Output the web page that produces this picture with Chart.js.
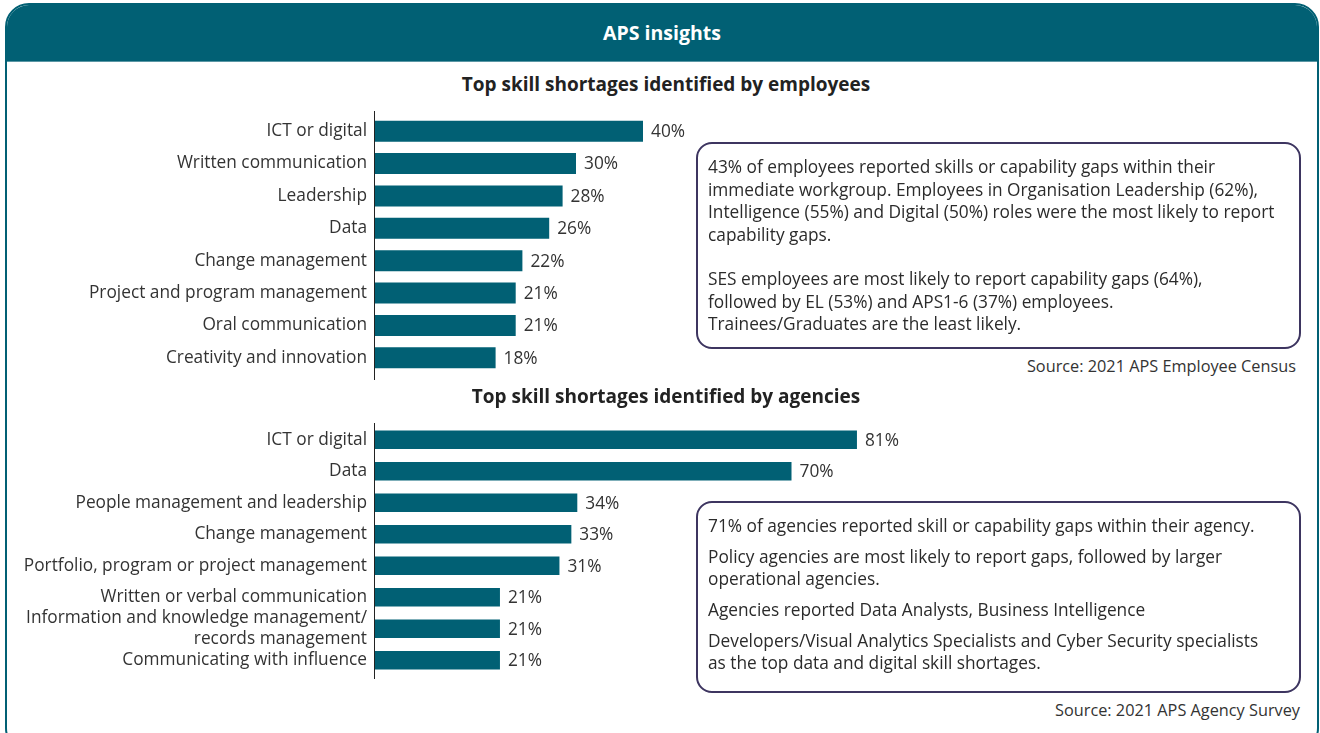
<!DOCTYPE html>
<html>
<head>
<meta charset="utf-8">
<script src="https://cdn.jsdelivr.net/npm/chart.js@4"></script>
<style>
  html, body { margin: 0; padding: 0; background: #fff; overflow: hidden; }
  body { width: 1320px; height: 733px; position: relative; font-family: "Open Sans", sans-serif; color: #333; }
  .panel { position: absolute; left: 5px; top: 3px; width: 1310px; height: 745px; border: 2px solid #016074; border-radius: 24px; overflow: hidden; box-sizing: content-box; }
  .header { height: 56px; background: #016074; color: #fff; font-weight: bold; font-size: 19.5px; text-align: center; line-height: 56px; border-bottom: 1px solid #5a96a4; }
  .title { position: absolute; left: 0; width: 1332px; text-align: center; font-weight: bold; font-size: 19px; line-height: 26px; color: #222; }
  .box { position: absolute; left: 696px; width: 605px; border: 2px solid #3d3560; border-radius: 16px; box-sizing: border-box; font-size: 17.3px; line-height: 22.5px; padding: 12px 10px; color: #2b2b2b; }
  .box p { margin: 0; white-space: nowrap; }
  .source { position: absolute; font-size: 16.3px; color: #333; text-align: right; white-space: nowrap; }
  canvas { position: absolute; left: 0; }
</style>
</head>
<body>
<div class="panel"><div class="header">APS insights</div></div>

<div class="title" style="top:71px;">Top skill shortages identified by employees</div>
<div style="position:absolute;left:0;top:105px;width:790px;height:280px;"><canvas id="empChart"></canvas></div>

<div class="box" style="top:142px;height:207px;">
  <p>43% of employees reported skills or capability gaps within their<br>immediate workgroup. Employees in Organisation Leadership (62%),<br>Intelligence (55%) and Digital (50%) roles were the most likely to report<br>capability gaps.</p>
  <p style="margin-top:22px;">SES employees are most likely to report capability gaps (64%),<br>followed by EL (53%) and APS1-6 (37%) employees.<br>Trainees/Graduates are the least likely.</p>
</div>
<div class="source" style="right:24px;top:355px;">Source: 2021 APS Employee Census</div>

<div class="title" style="top:383px;">Top skill shortages identified by agencies</div>
<div style="position:absolute;left:0;top:415px;width:1000px;height:270px;"><canvas id="agencyChart"></canvas></div>

<div class="box" style="top:501px;height:192px;line-height:22px;">
  <p>71% of agencies reported skill or capability gaps within their agency.</p>
  <p style="margin-top:9px;">Policy agencies are most likely to report gaps, followed by larger<br>operational agencies.</p>
  <p style="margin-top:9px;">Agencies reported Data Analysts, Business Intelligence</p>
  <p style="margin-top:9px;">Developers/Visual Analytics Specialists and Cyber Security specialists<br>as the top data and digital skill shortages.</p>
</div>
<div class="source" style="right:20px;top:699px;">Source: 2021 APS Agency Survey</div>

<script>
const employeeSkills = ['ICT or digital', 'Written communication', 'Leadership', 'Data', 'Change management',
  'Project and program management', 'Oral communication', 'Creativity and innovation'];
const employeeValues = [40, 30, 28, 26, 22, 21, 21, 18];

const agencySkills = ['ICT or digital', 'Data', 'People management and leadership', 'Change management',
  'Portfolio, program or project management', 'Written or verbal communication',
  ['Information and knowledge management/', 'records management'], 'Communicating with influence'];
const agencyValues = [81, 70, 34, 33, 31, 21, 21, 21];

const teal = '#016074';
const textColor = '#333333';
const fontFamily = '"Open Sans", sans-serif';
const labelSize = 17.3;

// draws the "40%" style labels at the end of each bar
const valueLabels = {
  id: 'valueLabels',
  afterDatasetsDraw(chart) {
    const ctx = chart.ctx;
    const meta = chart.getDatasetMeta(0);
    ctx.save();
    ctx.font = labelSize + 'px ' + fontFamily;
    ctx.fillStyle = textColor;
    ctx.textAlign = 'left';
    ctx.textBaseline = 'middle';
    meta.data.forEach((bar, i) => {
      ctx.fillText(chart.data.datasets[0].data[i] + '%', bar.x + 8, bar.y + 1);
    });
    ctx.restore();
  }
};

// the axis line in the original runs a little past the last bar
const axisLine = {
  id: 'axisLine',
  afterDraw(chart, args, opts) {
    const { ctx, chartArea } = chart;
    ctx.save();
    ctx.strokeStyle = '#222';
    ctx.lineWidth = 1;
    ctx.beginPath();
    ctx.moveTo(chartArea.left - 0.5, chartArea.top - opts.above);
    ctx.lineTo(chartArea.left - 0.5, chartArea.bottom + opts.below);
    ctx.stroke();
    ctx.restore();
  }
};

function makeChart(id, labels, values, opts) {
  return new Chart(document.getElementById(id), {
    type: 'bar',
    data: {
      labels: labels,
      datasets: [{
        data: values,
        backgroundColor: teal,
        borderWidth: 0,
        barPercentage: opts.barPct,
        categoryPercentage: 1
      }]
    },
    options: {
      indexAxis: 'y',
      responsive: true,
      maintainAspectRatio: false,
      animation: false,
      layout: { padding: opts.padding },
      plugins: {
        legend: { display: false },
        tooltip: { enabled: false },
        axisLine: opts.line
      },
      scales: {
        x: { display: false, min: 0, max: opts.max },
        y: {
          afterFit(scale) {
            // fixed label column, no extra room for label overhang
            scale.width = 375;
            scale.paddingTop = 0;
            scale.paddingBottom = 0;
          },
          grid: { display: false, drawTicks: false },
          border: { display: false },
          ticks: {
            autoSkip: false,
            color: textColor,
            padding: 8,
            font: { family: fontFamily, size: labelSize, lineHeight: 1.2 }
          }
        }
      }
    },
    plugins: [valueLabels, axisLine]
  });
}

makeChart('empChart', employeeSkills, employeeValues, {
  max: 60, barPct: 0.65,
  padding: { top: 10, bottom: 11, left: 0, right: 13 },
  line: { above: 4, below: 6 }
});

makeChart('agencyChart', agencySkills, agencyValues, {
  max: 100, barPct: 0.58,
  padding: { top: 9, bottom: 9, left: 0, right: 30 },
  line: { above: 1, below: 3 }
});
</script>
</body>
</html>
